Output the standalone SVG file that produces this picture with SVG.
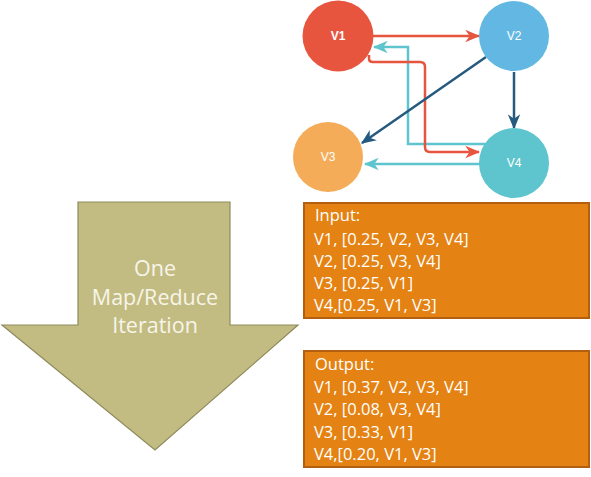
<svg xmlns="http://www.w3.org/2000/svg" width="591" height="477" viewBox="0 0 591 477">
<style>
.lbl{font-family:"Liberation Sans",Arial,sans-serif;font-size:12px;fill:#fff;text-anchor:middle;dominant-baseline:central}
.box{fill:#E48213;stroke:#B2600F;stroke-width:2}
.bt{font-family:"Open Sans","Liberation Sans",sans-serif;font-size:16.5px;fill:#fff}
.at{font-family:"Open Sans","Liberation Sans",sans-serif;font-size:21.5px;fill:#F7F5EA;text-anchor:middle}
.e{fill:none;stroke-width:2.5}
</style>
<defs>
<marker id="mr" viewBox="0 0 12 10" refX="11" refY="5" markerWidth="6" markerHeight="5.2" orient="auto" markerUnits="strokeWidth"><path d="M0,0 L12,5 L0,10 L3.5,5 z" fill="#E8553F"/></marker>
<marker id="mt" viewBox="0 0 12 10" refX="11" refY="5" markerWidth="6" markerHeight="5.2" orient="auto" markerUnits="strokeWidth"><path d="M0,0 L12,5 L0,10 L3.5,5 z" fill="#5EC4CD"/></marker>
<marker id="mb" viewBox="0 0 12 10" refX="11" refY="5" markerWidth="6" markerHeight="5.2" orient="auto" markerUnits="strokeWidth"><path d="M0,0 L12,5 L0,10 L3.5,5 z" fill="#255A7E"/></marker>
</defs>
<g id="iteration-arrow">
<polygon points="78,202 230,202 230,325 298,325 155,450 2,325 78,325" fill="#C3BC82" stroke="#8F8B5C" stroke-width="1.2"/>
<text class="at" x="155" y="276">One</text>
<text class="at" x="155" y="305">Map/Reduce</text>
<text class="at" x="155" y="333">Iteration</text>
</g>
<g id="input-box">
<rect class="box" x="304" y="203" width="285" height="115"/>
<text class="bt" x="315" y="221">Input:</text>
<text class="bt" x="314" y="245">V1, [0.25, V2, V3, V4]</text>
<text class="bt" x="314" y="267">V2, [0.25, V3, V4]</text>
<text class="bt" x="314" y="289">V3, [0.25, V1]</text>
<text class="bt" x="314" y="311">V4,[0.25, V1, V3]</text>
</g>
<g id="output-box">
<rect class="box" x="304" y="351" width="285" height="116"/>
<text class="bt" x="315" y="370">Output:</text>
<text class="bt" x="314" y="393">V1, [0.37, V2, V3, V4]</text>
<text class="bt" x="314" y="415">V2, [0.08, V3, V4]</text>
<text class="bt" x="314" y="438">V3, [0.33, V1]</text>
<text class="bt" x="314" y="460">V4,[0.20, V1, V3]</text>
</g>
<g id="connectors">
<path class="e" stroke="#E8553F" d="M373,36 H479" marker-end="url(#mr)"/>
<path class="e" stroke="#5EC4CD" d="M485,144 H408 V47 H374" marker-end="url(#mt)"/>
<path class="e" stroke="#E8553F" d="M369,55 V59 Q369,62 373,62 H420 Q425,62 425,67 V147 Q425,152 430,152 H479" marker-end="url(#mr)"/>
<path class="e" stroke="#255A7E" d="M486,57 L362,143" marker-end="url(#mb)"/>
<path class="e" stroke="#255A7E" d="M514,72 V128" marker-end="url(#mb)"/>
<path class="e" stroke="#5EC4CD" d="M480,164 H365" marker-end="url(#mt)"/>
</g>
<g id="V1"><circle cx="338" cy="36" r="35.5" fill="#E8553F"/><text class="lbl" x="338" y="36" font-weight="bold">V1</text></g>
<g id="V2"><circle cx="514" cy="36" r="35" fill="#62B8E2"/><text class="lbl" x="514" y="36">V2</text></g>
<g id="V3"><circle cx="328" cy="157" r="35" fill="#F4AC58"/><text class="lbl" x="328" y="157">V3</text></g>
<g id="V4"><circle cx="514" cy="163" r="35" fill="#5EC4CD"/><text class="lbl" x="514" y="163">V4</text></g>
</svg>
